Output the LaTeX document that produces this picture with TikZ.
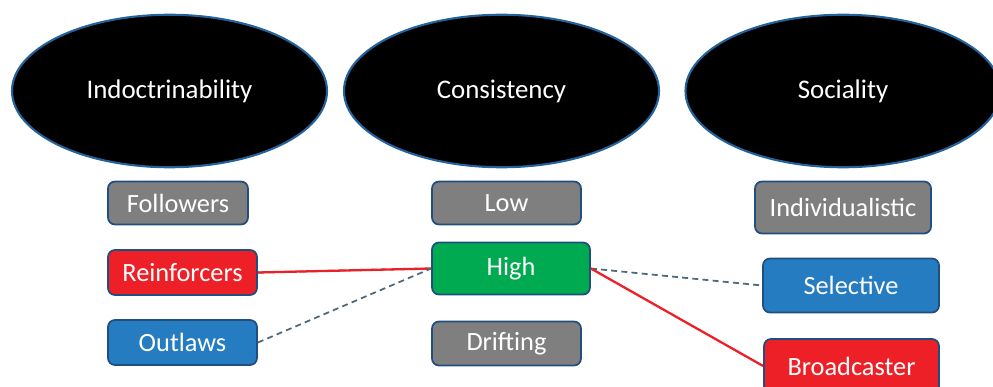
\documentclass[tikz,border=0pt]{standalone}
\usepackage{fontspec}
\setmainfont{Carlito}
\usepackage{tikz}
\usetikzlibrary{shapes.geometric}
\definecolor{boxgray}{RGB}{127, 127, 127}
\definecolor{boxred}{RGB}{237, 32, 39}
\definecolor{boxgreen}{RGB}{0, 170, 80}
\definecolor{boxblue}{RGB}{38, 124, 192}
\definecolor{edgeblue}{RGB}{33, 78, 128}
\definecolor{rimblue}{RGB}{36, 98, 156}
\definecolor{linkgray}{RGB}{80, 104, 124}

\begin{document}
\begin{tikzpicture}[
  trait/.style={ellipse, fill=black, draw=rimblue, line width=1.2pt, text=white, font=\fontsize{15.3}{18}\selectfont, minimum width=6.3cm, minimum height=3.05cm, inner sep=0pt},
  level/.style={rounded corners=4pt, draw=edgeblue, line width=1pt, text=white, font=\fontsize{15}{18}\selectfont, align=center, inner sep=0pt},
  strong/.style={boxred, line width=1.3pt},
  weak/.style={linkgray, dash pattern=on 3.4pt off 2.4pt, line width=1pt},
]
\useasboundingbox (0, 0) rectangle (19.86, -7.74);

% Traits
\node[trait] (indoc) at (3.39, -1.82) {Indoctrinability};
\node[trait] (consis) at (10.03, -1.82) {Consistency};
\node[trait] (social) at (16.86, -1.82) {Sociality};

% Indoctrinability levels
\node[level, fill=boxgray, minimum width=2.80cm, minimum height=0.86cm] (followers) at (3.56, -4.06) {Followers};
\node[level, fill=boxred, minimum width=2.98cm, minimum height=0.90cm] (reinf) at (3.65, -5.45) {Reinforcers};
\node[level, fill=boxblue, minimum width=2.98cm, minimum height=0.90cm] (outlaws) at (3.65, -6.85) {Outlaws};

% Consistency levels
\node[level, fill=boxgray, minimum width=2.98cm, minimum height=0.86cm] (low) at (10.13, -4.06) {Low};
\node[level, fill=boxgreen, minimum width=3.16cm, minimum height=1.04cm] (high) at (10.22, -5.37) {High};
\node[level, fill=boxgray, minimum width=2.98cm, minimum height=0.88cm] (drifting) at (10.13, -6.87) {Drifting};

% Sociality levels
\node[level, fill=boxgray, minimum width=3.52cm, minimum height=1.04cm] (indiv) at (16.86, -4.15) {Individualistic};
\node[level, fill=boxblue, minimum width=3.52cm, minimum height=1.08cm] (select) at (17.02, -5.71) {Selective};
\node[level, fill=boxred, minimum width=3.50cm, minimum height=1.08cm] (broad) at (17.03, -7.32) {Broadcaster};

% Links
\draw[weak] (reinf.east) -- (high.west);
\draw[strong] (reinf.east) -- (high.west);
\draw[weak] (outlaws.east) -- (high.west);
\draw[weak] (high.east) -- (select.west);
\draw[strong] (high.east) -- (broad.west);
\end{tikzpicture}
\end{document}
